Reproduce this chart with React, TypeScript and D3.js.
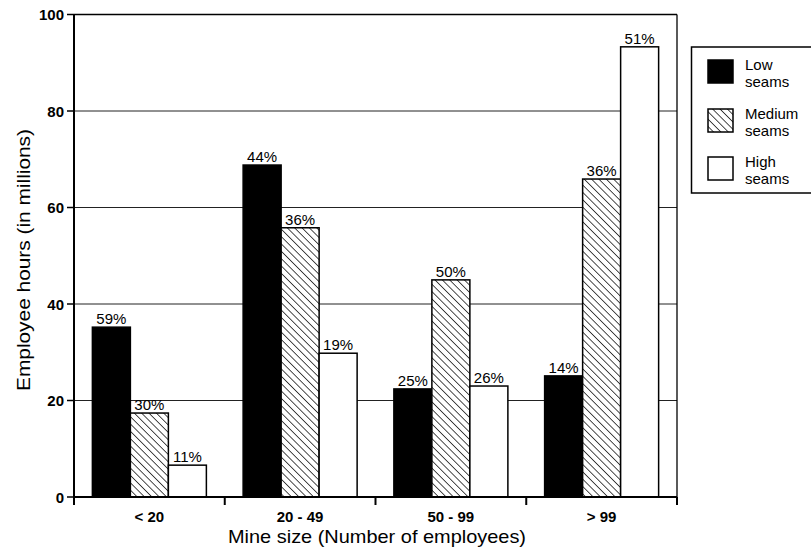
import React from "react";
import * as d3 from "d3";

const categories = ["< 20", "20 - 49", "50 - 99", "> 99"];
const seriesNames = ["Low seams", "Medium seams", "High seams"];
const lowValues = [35.2, 68.8, 22.4, 25.1];
const mediumValues = [17.4, 55.8, 45.0, 65.9];
const highValues = [6.6, 29.8, 23.0, 93.3];
const lowPct = ["59%", "44%", "25%", "14%"];
const mediumPct = ["30%", "36%", "50%", "36%"];
const highPct = ["11%", "19%", "26%", "51%"];
const yTicks = [0, 20, 40, 60, 80, 100];

const W = 811, H = 552;
const left = 74, right = 677, top = 14.5, bottom = 497;
const font = "'Liberation Sans', Arial, Helvetica, sans-serif";

export default function App() {
  const y = d3.scaleLinear().domain([0, 100]).range([bottom, top]);
  const x0 = d3.scaleBand<string>().domain(categories).range([left, right]).paddingInner(0).paddingOuter(0);
  const x1 = d3.scaleBand<number>().domain([0, 1, 2]).range([0, 114]);
  const values = [lowValues, mediumValues, highValues];
  const pcts = [lowPct, mediumPct, highPct];
  const fills = ["#000", "url(#hatch)", "#fff"];
  const bw = x0.bandwidth();
  const boundaries = [left, ...categories.map((c) => (x0(c) as number) + bw)];
  const legendY = [60, 109, 157];

  return (
    <svg width={W} height={H} style={{ display: "block", position: "absolute", left: 0, top: 0 }}>
      <defs>
        <pattern id="hatch" patternUnits="userSpaceOnUse" width="5.2" height="5.2" patternTransform="rotate(-45)">
          <rect width="5.2" height="5.2" fill="#fff" />
          <line x1="0" y1="0" x2="0" y2="5.2" stroke="#000" strokeWidth="1.4" />
        </pattern>
      </defs>
      <rect width={W} height={H} fill="#fff" />
      {yTicks.filter((t) => t > 0 && t < 100).map((t) => (
        <line key={t} x1={left} x2={right} y1={y(t)} y2={y(t)} stroke="#222" strokeWidth={1} />
      ))}
      <line x1={left} x2={right} y1={y(100)} y2={y(100)} stroke="#000" strokeWidth={1.5} />
      <line x1={right} x2={right} y1={y(100)} y2={bottom} stroke="#000" strokeWidth={1.3} />
      {categories.map((c, i) => {
        const gx = (x0(c) as number) + (bw - 114) / 2;
        return values.map((vals, s) => {
          const bx = gx + (x1(s) as number);
          const bwid = x1.bandwidth();
          return (
            <g key={c + s}>
              <rect x={bx} y={y(vals[i])} width={bwid} height={bottom - y(vals[i])} fill={fills[s]} stroke="#000" strokeWidth={1.5} />
              <text x={bx + bwid / 2} y={y(vals[i]) - 3} textAnchor="middle" fontFamily={font} fontSize={15} fill="#000">{pcts[s][i]}</text>
            </g>
          );
        });
      })}
      <line x1={left} x2={left} y1={y(100)} y2={bottom + 6} stroke="#000" strokeWidth={2} />
      {yTicks.map((t) => (
        <g key={t}>
          <line x1={left - 7} x2={left} y1={y(t)} y2={y(t)} stroke="#000" strokeWidth={1.5} />
          <text x={left - 10} y={y(t) + 5.5} textAnchor="end" fontFamily={font} fontSize={15} fontWeight="bold">{t}</text>
        </g>
      ))}
      <line x1={left} x2={right} y1={bottom} y2={bottom} stroke="#000" strokeWidth={2} />
      {boundaries.map((b, i) => (
        <line key={i} x1={b} x2={b} y1={bottom} y2={bottom + 8} stroke="#000" strokeWidth={2} />
      ))}
      {categories.map((c) => (
        <text key={c} x={(x0(c) as number) + bw / 2} y={522} textAnchor="middle" fontFamily={font} fontSize={15} fontWeight="bold">{c}</text>
      ))}
      <text x={377} y={543} textAnchor="middle" fontFamily={font} fontSize={18.5} textLength={298} lengthAdjust="spacingAndGlyphs">Mine size (Number of employees)</text>
      <text transform={`translate(30, 260) rotate(-90)`} textAnchor="middle" fontFamily={font} fontSize={18.5} textLength={262} lengthAdjust="spacingAndGlyphs">Employee hours (in millions)</text>
      <rect x={691.5} y={47} width={130} height={146} fill="#fff" stroke="#000" strokeWidth={1.5} />
      {seriesNames.map((n, s) => {
        const ly = legendY[s];
        const parts = n.split(" ");
        return (
          <g key={n}>
            <rect x={708} y={ly} width={25} height={23} fill={fills[s]} stroke="#000" strokeWidth={1.5} />
            <text x={745} y={ly + 10} fontFamily={font} fontSize={15}>{parts[0]}</text>
            <text x={745} y={ly + 27} fontFamily={font} fontSize={15}>{parts[1]}</text>
          </g>
        );
      })}
    </svg>
  );
}
